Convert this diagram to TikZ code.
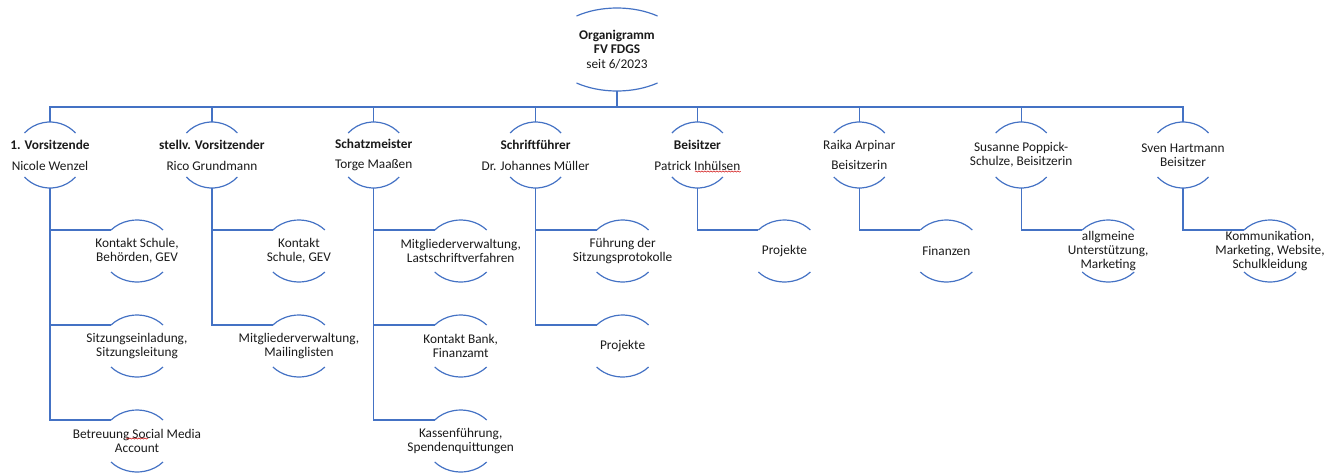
\documentclass[tikz,border=0pt]{standalone}
\usepackage{fontspec}
\setmainfont{Carlito}
\usetikzlibrary{calc,decorations.pathmorphing}
\definecolor{orgblue}{HTML}{4472C4}
\definecolor{txtcol}{HTML}{1A1A1A}
% #1 node name, #2 half chord, #3 apex offset, #4 arc end offset
\newcommand{\orgarcs}[4]{%
  \pgfmathsetmacro\oa{#2/sqrt(1-(#4/#3)^2)}%
  \pgfmathsetmacro\ot{acos(#2/\oa)}%
  \draw[arcline] ($(#1)+(#2,-#4)$) arc[start angle=\ot, end angle=180-\ot, x radius=\oa pt, y radius=#3 pt];
  \draw[arcline] ($(#1)+(-#2,#4)$) arc[start angle=180+\ot, end angle=360-\ot, x radius=\oa pt, y radius=#3 pt];
}
\begin{document}
\begin{tikzpicture}[x=1pt,y=-1pt,
  arcline/.style={draw=orgblue,line width=1.2pt},
  conn/.style={draw=orgblue,line width=1.3pt},
  txt/.style={align=center,inner sep=0pt,text=txtcol,font=\fontsize{13.3}{14.3}\selectfont},
  spell/.style={draw=red!80!black,line width=0.5pt,decorate,decoration={snake,segment length=3pt,amplitude=0.6pt}}]
\useasboundingbox (0,0) rectangle (1338,474);

% top node
\node[txt] (top) at (617,49.5) {\textbf{Organigramm}\\\textbf{FV FDGS}\\seit 6/2023};
\orgarcs{top}{40.5}{41.5}{33.5}

% level 1
\node[txt] (n1) at (50,155) {\textbf{1. Vorsitzende}\\[6.5pt]Nicole Wenzel};
\node[txt] (n2) at (211.9,155) {\textbf{stellv. Vorsitzender}\\[6.5pt]Rico Grundmann};
\node[txt] (n3) at (373.7,155) {\textbf{Schatzmeister}\\[6.5pt]Torge Maaßen};
\node[txt] (n4) at (535.6,155) {\textbf{Schriftführer}\\[6.5pt]Dr. Johannes Müller};
\node[txt] (n5) at (697.4,155) {\textbf{Beisitzer}\\[6.5pt]Patrick Inhülsen};
\node[txt] (n6) at (859.3,155) {Raika Arpinar\\[6.5pt]Beisitzerin};
\node[txt] (n7) at (1021.2,155) {Susanne Poppick-\\Schulze, Beisitzerin};
\node[txt] (n8) at (1183,155) {Sven Hartmann\\Beisitzer};
\foreach \n in {n1,n2,n3,n4,n5,n6,n7,n8} {\orgarcs{\n}{25.5}{33}{22}}

% level 2
\node[txt] (n1a) at (137,251) {Kontakt Schule,\\Behörden, GEV};
\node[txt] (n1b) at (137,346) {Sitzungseinladung,\\Sitzungsleitung};
\node[txt] (n1c) at (137,441) {Betreuung Social Media\\Account};
\node[txt] (n2a) at (298.9,251) {Kontakt\\Schule, GEV};
\node[txt] (n2b) at (298.9,346) {Mitgliederverwaltung,\\Mailinglisten};
\node[txt] (n3a) at (460.7,251) {Mitgliederverwaltung,\\Lastschriftverfahren};
\node[txt] (n3b) at (460.7,346) {Kontakt Bank,\\Finanzamt};
\node[txt] (n3c) at (460.7,441) {Kassenführung,\\Spendenquittungen};
\node[txt] (n4a) at (622.6,251) {Führung der\\Sitzungsprotokolle};
\node[txt] (n4b) at (622.6,346) {Projekte};
\node[txt] (n5a) at (784.4,251) {Projekte};
\node[txt] (n6a) at (946.3,251) {Finanzen};
\node[txt] (n7a) at (1108.2,251) {allgmeine\\Unterstützung,\\Marketing};
\node[txt] (n8a) at (1270,251) {Kommunikation,\\Marketing, Website,\\Schulkleidung};
\foreach \n in {n1a,n1b,n1c,n2a,n2b,n3a,n3b,n3c,n4a,n4b,n5a,n6a,n7a,n8a} {\orgarcs{\n}{26}{31}{21}}

% connectors top -> level 1
\draw[conn] ($(top)+(0,41.5)$) -- ($(top)+(0,57.5)$);
\draw[conn] ($(n1)+(0,-33)$) |- ($(n8)+(0,-48)$) -- ($(n8)+(0,-33)$);
\foreach \n in {n2,n3,n4,n5,n6,n7} {\draw[conn] ($(\n)+(0,-33)$) -- ($(\n)+(0,-48)$);}

% connectors level 1 -> level 2
\foreach \p/\c in {n1/n1a,n1/n1b,n1/n1c,n2/n2a,n2/n2b,n3/n3a,n3/n3b,n3/n3c,n4/n4a,n4/n4b,n5/n5a,n6/n6a,n7/n7a,n8/n8a}
  {\draw[conn] ($(\p)+(0,33)$) |- ($(\c)+(-26,-21)$);}

% spell-check marks
\draw[spell] ($(n5)+(-2.5,16.5)$) -- ($(n5)+(43.5,16.5)$);
\draw[spell] ($(n1c)+(-11,-2.5)$) -- ($(n1c)+(11,-2.5)$);
\end{tikzpicture}
\end{document}
